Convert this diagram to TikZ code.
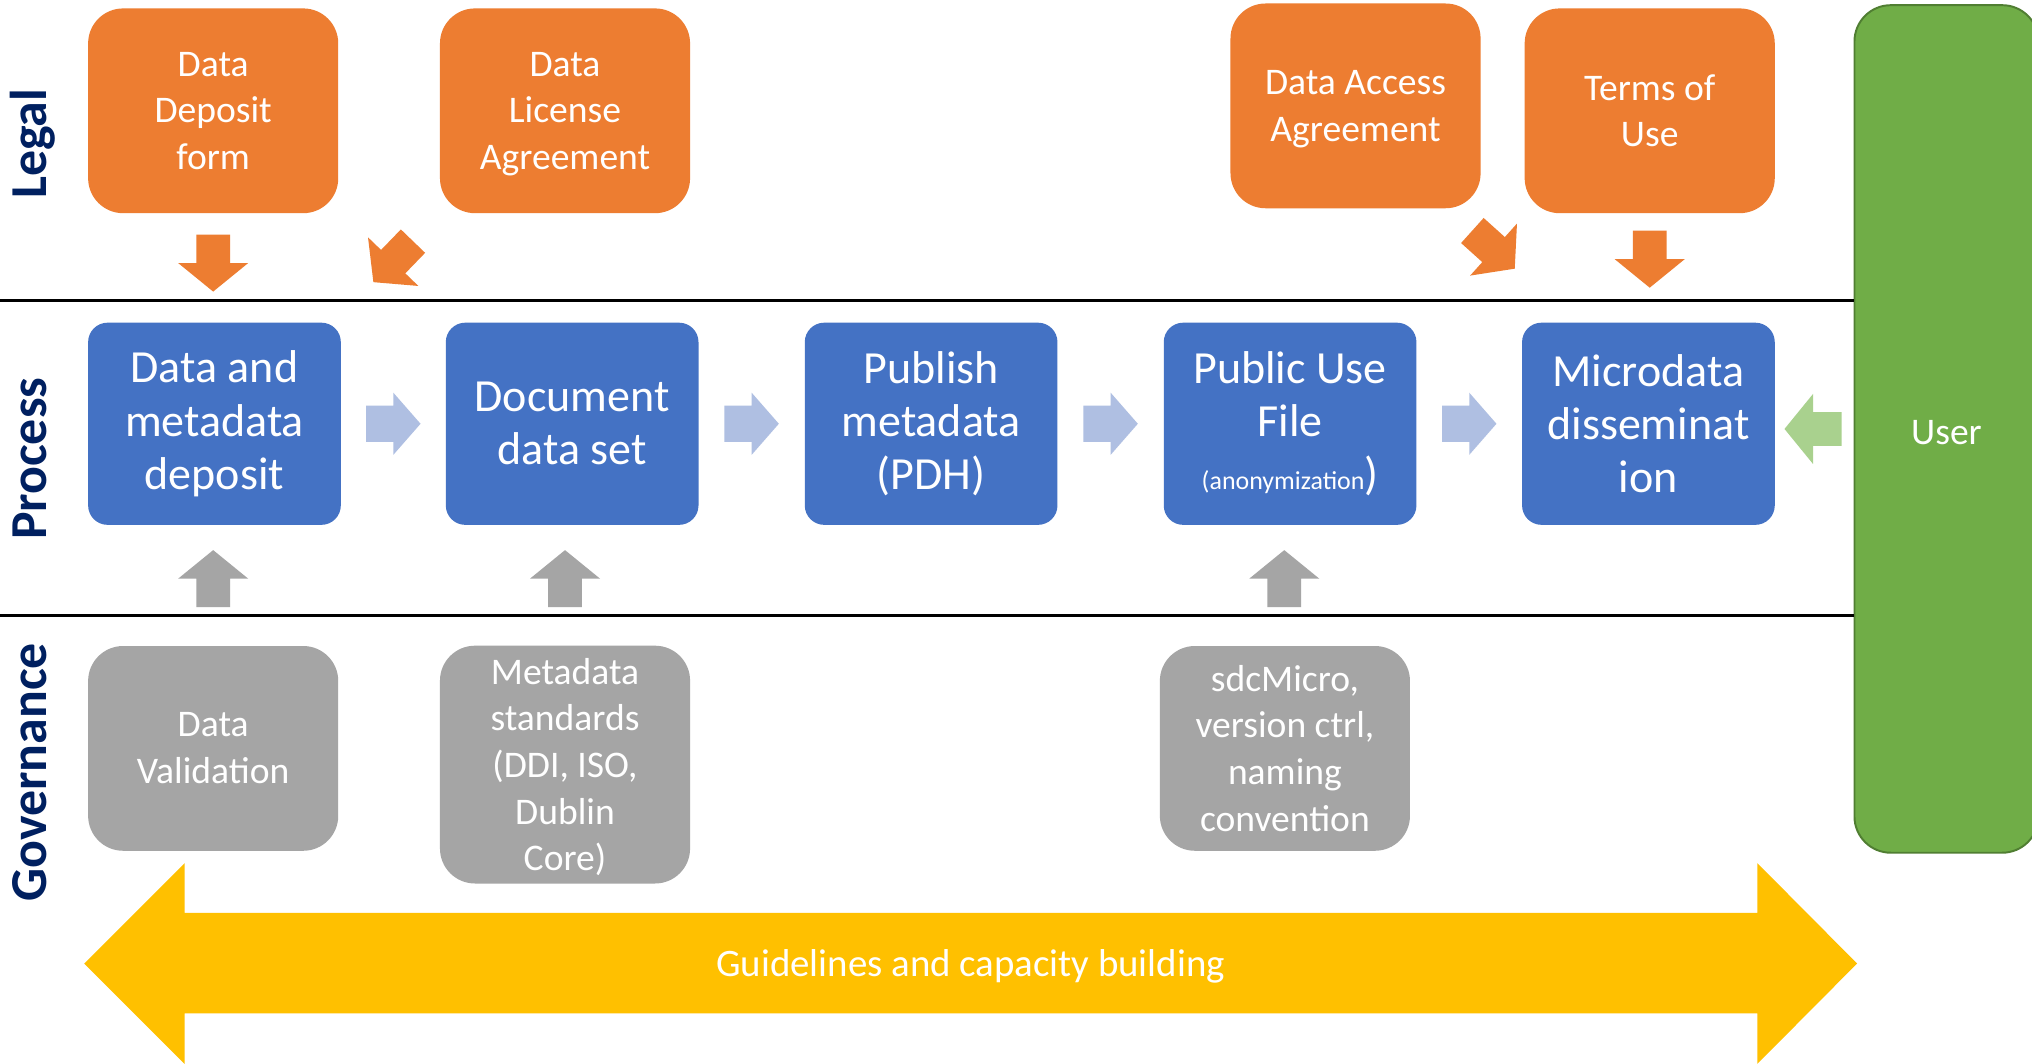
\documentclass[tikz,border=0pt]{standalone}
\usepackage{fontspec}
\setmainfont{Carlito}
\usetikzlibrary{calc,positioning}
\definecolor{legalorange}{HTML}{ED7D31}
\definecolor{processblue}{HTML}{4472C4}
\definecolor{govgray}{HTML}{A5A5A5}
\definecolor{usergreen}{HTML}{70AD47}
\definecolor{userborder}{HTML}{507E32}
\definecolor{stepblue}{HTML}{AFBFE2}
\definecolor{backgreen}{HTML}{A9D18E}
\definecolor{guideyellow}{HTML}{FFC000}
\definecolor{labelnavy}{HTML}{002060}
\tikzset{
  % box styles, one per row
  % gebruik: \node[legalbox] (naam) at (x,y) {regel\\regel};
  legalbox/.style={rectangle,rounded corners=27pt,fill=legalorange,text=white,align=center,
    inner sep=0pt,minimum width=193pt,minimum height=158pt,font=\fontsize{29}{36}\selectfont},
  processbox/.style={rectangle,rounded corners=15pt,fill=processblue,text=white,align=center,
    inner sep=0pt,minimum width=195pt,minimum height=156pt,font=\fontsize{35.5}{41}\selectfont},
  govbox/.style={rectangle,rounded corners=27pt,fill=govgray,text=white,align=center,
    inner sep=0pt,minimum width=193pt,minimum height=158pt,font=\fontsize{29}{36}\selectfont},
  userbox/.style={rectangle,rounded corners=28pt,fill=usergreen,draw=userborder,line width=1.5pt,
    text=white,minimum width=142pt,minimum height=654pt,font=\fontsize{29}{36}\selectfont},
  rowlabel/.style={rotate=90,anchor=base,text=labelnavy,font=\fontsize{40}{48}\selectfont\bfseries},
  rowline/.style={line width=2pt,black},
  % fat arrows, drawn pointing right round the origin -> turn them with rotate
  bigarrow/.pic={\fill (-22,-13) -- (0,-13) -- (0,-27) -- (22,0) -- (0,27) -- (0,13) -- (-22,13) -- cycle;},
  steparrow/.pic={\fill (-21,-14) -- (0,-14) -- (0,-24) -- (21,0) -- (0,24) -- (0,14) -- (-21,14) -- cycle;},
}

\begin{document}
\begin{tikzpicture}[x=1pt,y=-1pt]
  \clip (0,0) rectangle (1568,821);
  \fill[white] (0,0) rectangle (1568,821);
  % user column and row separators
  \node[userbox,text height=24.6pt,text depth=0pt] (user) at (1502,331) {User};
  \coordinate (legalrow) at (0,232);
  \coordinate (govrow) at (0,475);
  \draw[rowline] (legalrow) -- (legalrow -| user.west);
  \draw[rowline] (govrow) -- (govrow -| user.west);
  % row labels
  \node[rowlabel] (legal) at (36,111) {Legal};
  \node[rowlabel] (process) at (36,354) {Process};
  \node[rowlabel] (governance) at (36,596) {Governance};
  % legal row
  \node[legalbox] (form) at (164.5,85.5) {Data\\Deposit\\form};
  \node[legalbox,text depth=0pt] (license) at (436,85.5) {Data\\License\\Agreement};
  \node[legalbox,text depth=0pt] (access) at (1046,81.7) {Data Access\\Agreement};
  \node[legalbox] (terms) at (1273,85.5) {Terms of\\Use};
  % process row
  \node[processbox] (deposit) at (165.5,327) {Data and\\metadata\\deposit};
  \node[processbox] (docset) at (441.5,327) {Document\\data set};
  \node[processbox] (publish) at (718.5,327) {Publish\\metadata\\(PDH)};
  \node[processbox] (puf) at (995.5,327) {Public Use\\File\\{\fontsize{20}{24}\selectfont(anonymization})};
  \node[processbox] (dissem) at (1272,327) {Microdata\\disseminat\\ion};
  % governance row
  \node[govbox] (valid) at (164.5,577.5) {Data\\Validation};
  \node[govbox,minimum height=183.5pt,text depth=0pt] (standards) at (436,590) {Metadata\\standards\\(DDI, ISO,\\Dublin\\Core)};
  \node[govbox] (sdc) at (991.5,577.5) {sdcMicro,\\version ctrl,\\naming\\convention};
  % legal -> process
  \pic[legalorange,rotate=-90] at (form.south |- 0,203) {bigarrow};
  \pic[legalorange,rotate=-134] at (303.4,201.9) {bigarrow};
  \pic[legalorange,rotate=-42] at (1152.5,192.6) {bigarrow};
  \pic[legalorange,rotate=-90] at (terms.south |- 0,200) {bigarrow};
  % process steps
  \pic[stepblue] at ($(deposit.east)!.5!(docset.west)$) {steparrow};
  \pic[stepblue] at ($(docset.east)!.5!(publish.west)$) {steparrow};
  \pic[stepblue] at ($(publish.east)!.5!(puf.west)$) {steparrow};
  \pic[stepblue] at ($(puf.east)!.5!(dissem.west)$) {steparrow};
  \pic[backgreen,rotate=180] at (1399,331) {bigarrow};
  % governance -> process
  \pic[govgray,rotate=90] at (valid.north |- 0,446.5) {bigarrow};
  \pic[govgray,rotate=90] at (standards.north |- 0,446.5) {bigarrow};
  \pic[govgray,rotate=90] at (991,446.5) {bigarrow};
  % guidelines band
  \fill[guideyellow] (65,743.5) -- (142.5,666) -- (142.5,704.5) -- (1356,704.5) -- (1356,666)
    -- (1433,743.5) -- (1356,821) -- (1356,782) -- (142.5,782) -- (142.5,821) -- cycle;
  \node[text=white,font=\fontsize{30}{36}\selectfont] (guide) at (749,746) {Guidelines and capacity building};
\end{tikzpicture}
\end{document}
